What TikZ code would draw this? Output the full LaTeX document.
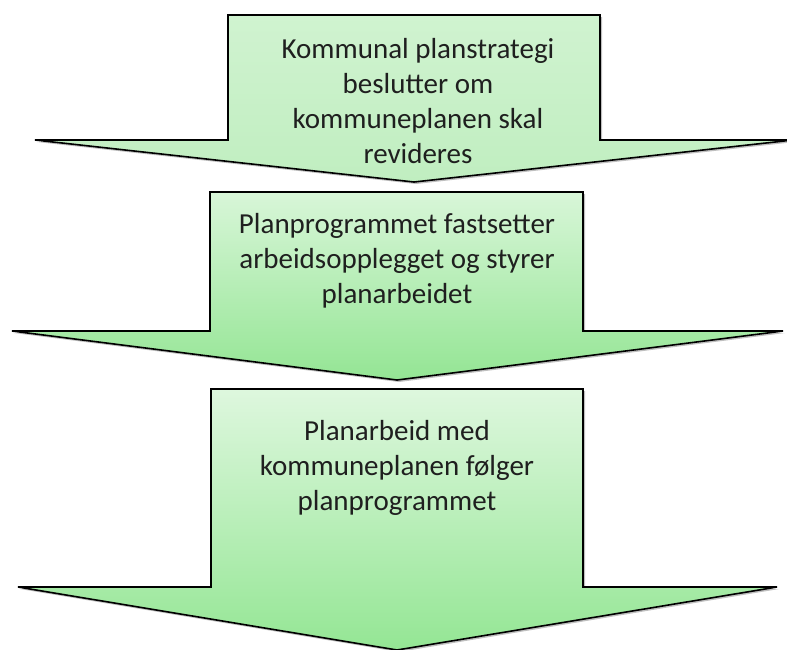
\documentclass[tikz,border=0pt]{standalone}
\usepackage{fontspec}
\setmainfont{Carlito}
\begin{document}
\begin{tikzpicture}[x=1pt,y=-1pt,
  arrowshape/.style={draw=black,line width=1.6pt,line join=miter},
  shadowshape/.style={fill=black,opacity=0.25,draw=none},
  label/.style={align=center,font=\fontsize{29}{35}\selectfont,text=black!88,inner sep=0pt}]
\useasboundingbox (0,0) rectangle (787,649);
\fill[white] (0,0) rectangle (787,649);
% arrow 1
\fill[shadowshape,shift={(2,2)}] (228,15) -- (600,15) -- (600,140) -- (793,140) -- (414,182) -- (35,140) -- (228,140) -- cycle;
\draw[arrowshape,top color={rgb,255:red,208;green,243;blue,208},bottom color={rgb,255:red,192;green,238;blue,192}]
  (228,15) -- (600,15) -- (600,140) -- (793,140) -- (414,182) -- (35,140) -- (228,140) -- cycle;
% arrow 2
\fill[shadowshape,shift={(2,2)}] (210,192) -- (583,192) -- (583,331) -- (783,331) -- (397,380) -- (12,331) -- (210,331) -- cycle;
\draw[arrowshape,top color={rgb,255:red,216;green,246;blue,216},bottom color={rgb,255:red,148;green,229;blue,148}]
  (210,192) -- (583,192) -- (583,331) -- (783,331) -- (397,380) -- (12,331) -- (210,331) -- cycle;
% arrow 3
\fill[shadowshape,shift={(2,2)}] (211,389) -- (583,389) -- (583,587) -- (777,587) -- (397,650) -- (18,587) -- (211,587) -- cycle;
\draw[arrowshape,top color={rgb,255:red,222;green,247;blue,222},bottom color={rgb,255:red,148;green,230;blue,148}]
  (211,389) -- (583,389) -- (583,587) -- (777,587) -- (397,650) -- (18,587) -- (211,587) -- cycle;
% texts
\node[label] (t1) at (418,101) {Kommunal planstrategi\\beslutter om\\kommuneplanen skal\\revideres};
\node[label] (t2) at (397,261) {Planprogrammet fastsetter\\arbeidsopplegget og styrer\\planarbeidet};
\node[label] (t3) at (397,468) {Planarbeid med\\kommuneplanen følger\\planprogrammet};
\end{tikzpicture}
\end{document}
